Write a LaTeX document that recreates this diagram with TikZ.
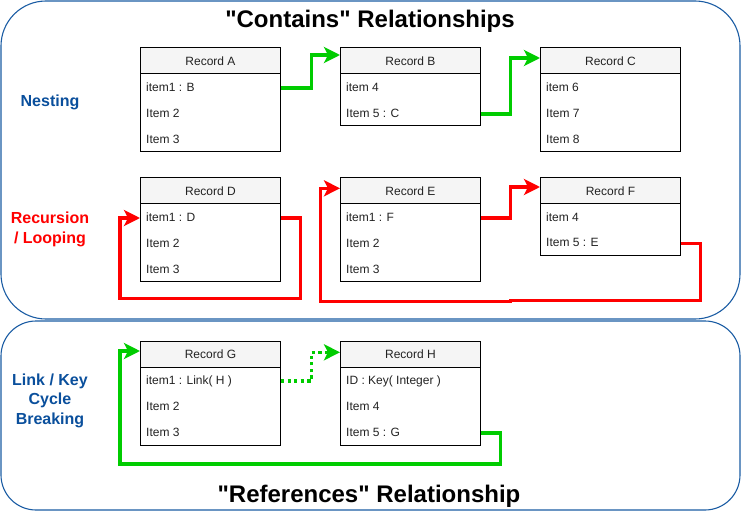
\documentclass[tikz,border=0pt]{standalone}
\usepackage{fontspec}
\setmainfont{Liberation Sans}[Ligatures=TeXOff]
\usetikzlibrary{arrows.meta}

\definecolor{frameblue}{HTML}{1A5CA3}
\definecolor{labelblue}{HTML}{0A4F9C}
\definecolor{linkgreen}{HTML}{00CC00}
\definecolor{looprd}{HTML}{FF0000}
\definecolor{hdrgray}{HTML}{F5F5F5}
\definecolor{rowtext}{HTML}{222222}

\tikzset{
  frame/.style={draw=frameblue, line width=1.1pt},
  bigtitle/.style={font=\fontsize{24}{28}\selectfont\bfseries, anchor=base, inner sep=0pt},
  side/.style={font=\fontsize{16}{19.5}\selectfont\bfseries, align=center, inner sep=0pt},
  recbox/.style={draw, line width=0.9pt, minimum width=140pt, anchor=north west, inner sep=0pt},
  hdr/.style={draw, fill=hdrgray, line width=0.9pt, minimum width=140pt, minimum height=26pt,
    anchor=north west, inner sep=0pt, font=\fontsize{12}{14}\selectfont, text=rowtext},
  row/.style={anchor=west, inner sep=0pt, text height=8.6pt, text depth=2.4pt,
    font=\fontsize{12}{14}\selectfont, text=rowtext},
  conn/.style={line width=3.3pt, -{Stealth[length=16pt, width=16pt, inset=4pt]}},
  linkdots/.style={dash pattern=on 3.3pt off 3.3pt},
}

% record: name, left x, top y, title, number of rows
\newcommand\recordbox[5]{%
  \node[recbox, minimum height={26pt+#5*26pt}] (#1) at (#2,#3) {};
  \node[hdr] (#1h) at (#2,#3) {#4};
}

\begin{document}
\begin{tikzpicture}[x=1pt, y=-1pt]
\useasboundingbox (0,0) rectangle (741,511);

% the two grouping frames
\draw[frame, rounded corners=45pt] (1,1) rectangle (740,319);
\draw[frame, rounded corners=35pt] (1,321) rectangle (740,510);

\node[bigtitle] (ttop) at (370,28) {"Contains" Relationships};
\node[bigtitle] (tbot) at (369,502) {"References" Relationship};

% side labels
\node[side, text=labelblue] (lnest) at (50,102) {Nesting};
\node[side, text=looprd] (lrec) at (50,229.5) {Recursion\\/ Looping};
\node[side, text=labelblue] (llink) at (50,400.5) {Link / Key\\Cycle\\Breaking};

% nesting records
\recordbox{A}{140}{47.3}{Record A}{3}
\node[row] (A1) at (146,88) {item1 : B};
\node[row] (A2) at (146,114) {Item 2};
\node[row] (A3) at (146,140) {Item 3};

\recordbox{B}{340}{47.3}{Record B}{2}
\node[row] (B1) at (346,88) {item 4};
\node[row] (B2) at (346,114) {Item 5 : C};

\recordbox{C}{540}{47.3}{Record C}{3}
\node[row] (C1) at (546,88) {item 6};
\node[row] (C2) at (546,114) {Item 7};
\node[row] (C3) at (546,140) {Item 8};

% recursive records
\recordbox{D}{140}{177.3}{Record D}{3}
\node[row] (D1) at (146,218) {item1 : D};
\node[row] (D2) at (146,244) {Item 2};
\node[row] (D3) at (146,270) {Item 3};

\recordbox{E}{340}{177.3}{Record E}{3}
\node[row] (E1) at (346,218) {item1 : F};
\node[row] (E2) at (346,244) {Item 2};
\node[row] (E3) at (346,270) {Item 3};

\recordbox{F}{540}{177.3}{Record F}{2}
\node[row] (F1) at (546,218) {item 4};
\node[row] (F2) at (546,243.5) {Item 5 : E};

% linked records
\recordbox{G}{140}{340.7}{Record G}{3}
\node[row] (G1) at (146,381) {item1 : Link( H )};
\node[row] (G2) at (146,407) {Item 2};
\node[row] (G3) at (146,433) {Item 3};

\recordbox{H}{340}{340.7}{Record H}{3}
\node[row] (H1) at (346,381) {ID : Key( Integer )};
\node[row] (H2) at (346,407) {Item 4};
\node[row] (H3) at (346,433) {Item 5 : G};

% bend points
\coordinate (ab) at (311.5,55);
\coordinate (bc) at (510.5,58);
\coordinate (dl1) at (300.5,298.5);
\coordinate (dl2) at (D1 -| 120,0);
\coordinate (ef) at (510.5,187);
\coordinate (fe1) at (700.5,300.3);
\coordinate (fe2) at (510.5,300.3);
\coordinate (fe3) at (510.5,301.8);
\coordinate (fe4) at (320.5,188.3);
\coordinate (gh) at (311.5,352.3);
\coordinate (hg1) at (500.5,464);
\coordinate (hg2) at (120,351);

% containment
\draw[conn, linkgreen] (A1 -| A.east) -| (ab) -- (ab -| B.west);
\draw[conn, linkgreen] (B2 -| B.east) -| (bc) -- (bc -| C.west);

% recursion and loops
\draw[conn, looprd] (D1 -| D.east) -| (dl1) -| (dl2) -- (D1 -| D.west);
\draw[conn, looprd] (E1 -| E.east) -| (ef) -- (ef -| F.west);
\draw[conn, looprd] (F2 -| F.east) -| (fe1) -- (fe2) -- (fe3) -| (fe4) -- (fe4 -| E.west);

% references
\draw[conn, linkgreen, linkdots] (G1 -| G.east) -| (gh) -- (gh -| H.west);
\draw[conn, linkgreen] (H3 -| H.east) -| (hg1) -| (hg2) -- (hg2 -| G.west);

\end{tikzpicture}
\end{document}
